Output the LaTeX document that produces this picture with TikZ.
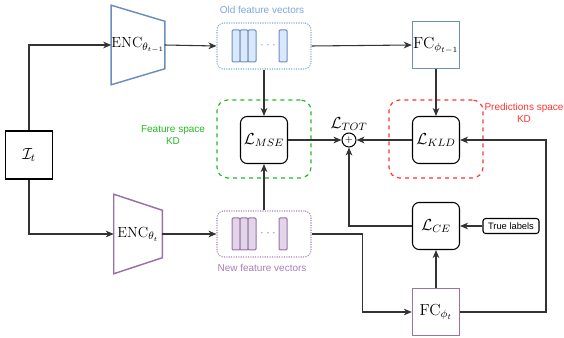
\documentclass[tikz,border=0pt]{standalone}
\usepackage{fontspec}
\setsansfont{Liberation Sans}
\usetikzlibrary{arrows.meta,calc}
\definecolor{encblue}{HTML}{6C8EBF}
\definecolor{barblue}{HTML}{DAE8FC}
\definecolor{lblblue}{HTML}{7EA6E0}
\definecolor{encpurple}{HTML}{9673A6}
\definecolor{barpurple}{HTML}{E1D5E7}
\definecolor{lblpurple}{HTML}{A680B8}
\definecolor{kdgreen}{HTML}{22BB22}
\definecolor{kdred}{HTML}{FF3333}
\newcommand*{\lbl}{\sffamily\fontsize{7.5}{9}\selectfont}
\tikzset{
  conn/.style={line width=0.8pt, black!80},
  arr/.style={conn, -{Stealth[length=6pt,width=5pt,inset=1.8pt]}},
  enc/.style={minimum width=36pt, minimum height=59.25pt, inner sep=0pt, font=\fontsize{11}{13}\selectfont},
  fcbox/.style={draw, line width=1.1pt, minimum size=35.25pt, inner sep=0pt, font=\large},
  loss/.style={draw, line width=0.8pt, rounded corners=5pt, minimum size=35.25pt, inner sep=0pt, font=\large},
  featbox/.style={draw, densely dotted, line width=0.8pt, rounded corners=5pt, minimum width=70.5pt, minimum height=34.5pt},
  kdbox/.style={draw, dashed, line width=0.9pt, rounded corners=8pt, minimum width=70.5pt, minimum height=58.5pt},
  bar/.style={line width=0.75pt, rounded corners=0.8pt}
}
\begin{document}
\begin{tikzpicture}[x=0.75pt,y=-0.75pt]
\useasboundingbox (0,0) rectangle (564,338);

% group frames
\node[kdbox, kdgreen] (kdfeat) at (264,139) {};
\node[kdbox, kdred] (kdpred) at (436,139) {};
\node[kdgreen, align=center, font=\lbl] (kdfeatlbl) at (173,135.5) {Feature space\\KD};
\node[kdred, align=center, font=\lbl] (kdpredlbl) at (524,112.5) {Predictions space\\KD};

% input
\node[draw, line width=0.8pt, minimum width=35.25pt, minimum height=36pt, font=\large] (it) at (29,155) {$\mathcal{I}_t$};

% encoders
\node[enc] (encold) at (138,45) {ENC$_{\theta_{t-1}}$};
\draw[encblue, line width=1.1pt] (encold.north west) -- ($(encold.north east)+(0,16)$)
  -- ($(encold.south east)+(0,-16)$) -- (encold.south west) -- cycle;
\node[enc] (encnew) at (138,234) {ENC$_{\theta_{t}}$};
\draw[encpurple, line width=1.1pt] (encnew.north west) -- ($(encnew.north east)+(0,16)$)
  -- ($(encnew.south east)+(0,-16)$) -- (encnew.south west) -- cycle;

% feature vectors
\node[featbox, lblblue] (oldfeat) at (264,46) {};
\node[lblblue, font=\lbl] (oldlbl) at (262,10) {Old feature vectors};
\foreach \dx in {-32,-24,-16,15}
  \draw[bar, draw=encblue, fill=barblue] ($(oldfeat)+(\dx,-16)$) rectangle ++(8,32);
\node[lblblue] (olddots) at ($(oldfeat)+(4,0)$) {$\cdots$};

\node[featbox, lblpurple] (newfeat) at (264,234) {};
\node[lblpurple, font=\lbl] (newlbl) at (262,268) {New feature vectors};
\foreach \dx in {-32,-24,-16,15}
  \draw[bar, draw=encpurple, fill=barpurple] ($(newfeat)+(\dx,-16)$) rectangle ++(8,32);
\node[lblpurple] (newdots) at ($(newfeat)+(4,0)$) {$\cdots$};

% heads and losses
\node[fcbox, encblue] (fcold) at (436,45) {\textcolor{black}{FC$_{\phi_{t-1}}$}};
\node[fcbox, encpurple] (fcnew) at (436,312) {\textcolor{black}{FC$_{\phi_{t}}$}};
\node[loss] (mse) at (264,140) {$\mathcal{L}_{MSE}$};
\node[loss] (kld) at (436,140) {$\mathcal{L}_{KLD}$};
\node[loss] (ce) at (436,226) {$\mathcal{L}_{CE}$};
\node[draw, line width=0.8pt, rounded corners=2pt, minimum width=42pt, minimum height=11.25pt, inner sep=1pt,
  font=\sffamily\fontsize{7}{8}\selectfont] (truel) at (511,226) {True labels};
\node[draw, circle, line width=0.8pt, minimum size=10.5pt, inner sep=0pt] (sum) at (349,140) {\scriptsize$+$};
\node[font=\large] (tot) at (349,124) {$\mathcal{L}_{TOT}$};
\coordinate (back) at (546,140);

% connectors
\draw[arr] (it.north) |- (encold.west);
\draw[arr] (it.south) |- (encnew.west);
\draw[arr] (encold.east) -- (oldfeat.west);
\draw[arr] (encnew.east) -- (newfeat.west);
\draw[arr] (oldfeat.east) -- (fcold.west);
\draw[arr] (oldfeat.south) -- (mse.north);
\draw[arr] (newfeat.north) -- (mse.south);
\draw[arr] (newfeat.east) -- ++(51,0) |- (fcnew.west);
\draw[arr] (fcold.south) -- (kld.north);
\draw[arr] (fcnew.north) -- (ce.south);
\draw[arr] (truel.west) -- (ce.east);
\draw[arr] (fcnew.east) -| (back) -- (kld.east);
\draw[arr] (mse.east) -- (sum.west);
\draw[arr] (kld.west) -- (sum.east);
\draw[arr] (ce.west) -| (sum.south);
\end{tikzpicture}
\end{document}
